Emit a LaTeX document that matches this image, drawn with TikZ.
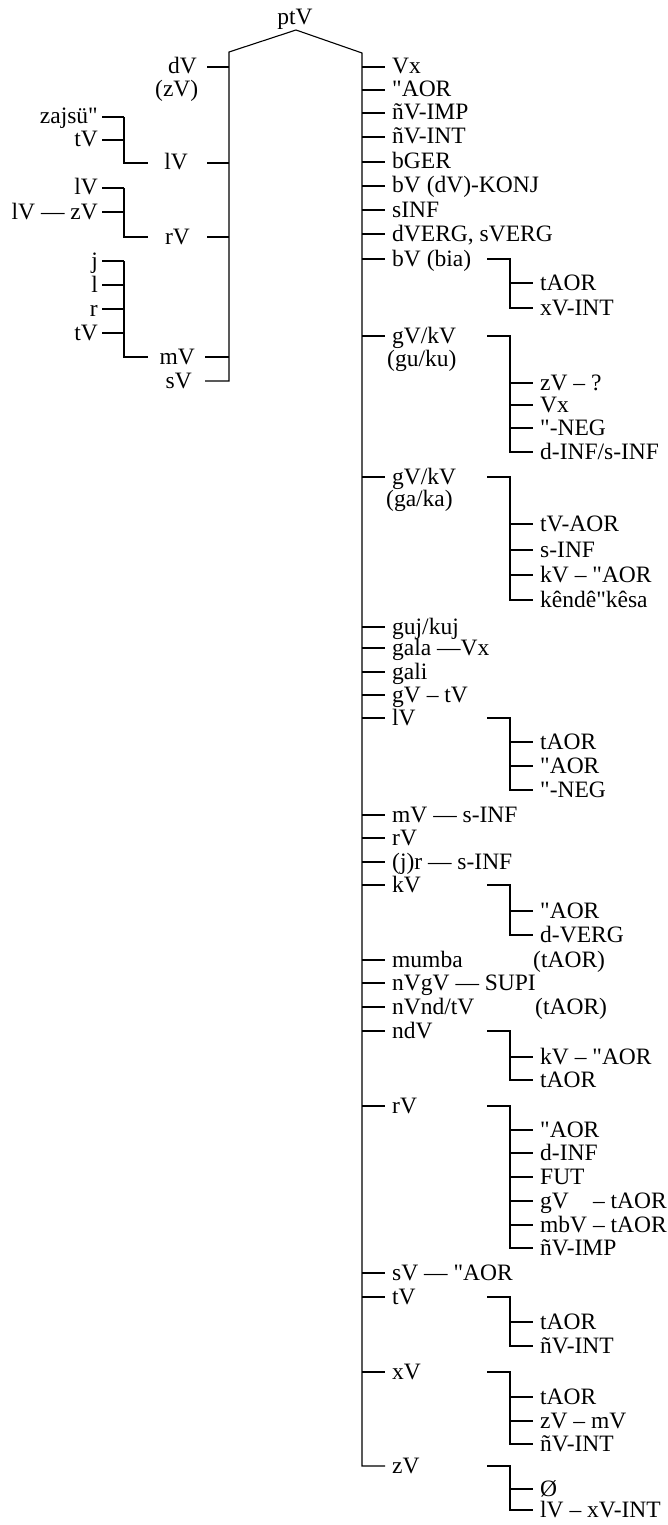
\documentclass[tikz,border=0pt]{standalone}
\usepackage{fontspec}
\setmainfont{Liberation Serif}[Ligatures=TeXOff]
\tikzset{
  lab/.style={inner sep=0pt, text height=14pt, text depth=0pt, font=\fontsize{23.5}{24}\selectfont},
  ln/.style={line width=1.1pt}
}
\newcommand\rItem[3]{\node[lab,anchor=west] (#1) at (392,#2) {#3};\draw[ln] (RT |- #1.west) -- ([xshift=-7pt]#1.west);}
\newcommand\cItem[3]{\node[lab,anchor=west] (#1) at (540,#2) {#3};\draw[ln] (BV |- #1.west) -- ([xshift=-7pt]#1.west);}
\newcommand\subBr[2]{\draw[ln] (BH |- #1.west) -- (BV |- #1.west) |- ([xshift=-7pt]#2.west);}
\newcommand\lItem[3]{\node[lab,anchor=east] (#1) at (98,#2) {#3};\draw[ln] ([xshift=4pt]#1.east) -- (LBR |- #1.east);}
\newcommand\lBr[2]{\draw[ln] (LBR |- #1.east) |- (#2);}
\begin{document}
\begin{tikzpicture}[x=1pt,y=-1pt]
\useasboundingbox (0,0) rectangle (668,1525);
% trunk coordinates
\coordinate (LT) at (229,52);
\coordinate (AP) at (296,30);
\coordinate (RT) at (362,53);
\coordinate (BH) at (487,0);
\coordinate (BV) at (510,0);
\coordinate (LBR) at (124,0);
\node[lab,anchor=base] (root) at (295,25) {ptV};

% ---------- left side ----------
\node[lab,anchor=east] (LdV) at (197,67) {dV};
\draw[ln] ([xshift=10pt]LdV.east) -- (LT |- LdV.east);
\node[lab,anchor=west] (LzV) at (155,90) {(zV)};

\lItem{la1}{117}{zajsü"}
\lItem{la2}{140}{tV}
\coordinate (lb1) at (148,163);
\lBr{la1}{lb1}
\node[lab,anchor=east] (LlV) at (188,163) {lV};
\draw[ln] ([xshift=19pt]LlV.east) -- (LT |- LlV.east);

\lItem{lb1a}{188}{lV}
\lItem{lb1b}{212}{lV — zV}
\coordinate (lb2) at (148,237);
\lBr{lb1a}{lb2}
\node[lab,anchor=east] (LrV) at (190,237) {rV};
\draw[ln] ([xshift=17pt]LrV.east) -- (LT |- LrV.east);

\lItem{lc1}{261}{j}
\lItem{lc2}{285}{l}
\lItem{lc3}{309}{r}
\lItem{lc4}{333}{tV}
\coordinate (lb3) at (148,357);
\lBr{lc1}{lb3}
\node[lab,anchor=east] (LmV) at (195,357) {mV};
\draw[ln] ([xshift=10pt]LmV.east) -- (LT |- LmV.east);
\node[lab,anchor=east] (LsV) at (192,381) {sV};

% ---------- trunk ----------
\node[lab,anchor=west] (r29) at (392,1466) {zV};
\draw[ln] ([xshift=13pt]LsV.east) -- (LT |- LsV.east) -- (LT) -- (AP) -- (RT) |- ([xshift=-7pt]r29.west);

% ---------- right side ----------
\rItem{r1}{67}{Vx}
\rItem{r2}{90}{"AOR}
\rItem{r3}{113}{ñV-IMP}
\rItem{r4}{137}{ñV-INT}
\rItem{r5}{162}{bGER}
\rItem{r6}{186}{bV (dV)-KONJ}
\rItem{r7}{210}{sINF}
\rItem{r8}{234}{dVERG, sVERG}

\rItem{r9}{259}{bV (bia)}
\cItem{c9a}{283}{tAOR}
\cItem{c9b}{308}{xV-INT}
\subBr{r9}{c9b}

\rItem{r10}{336}{gV/kV}
\node[lab,anchor=west] (r10b) at (387,359) {(gu/ku)};
\cItem{c10a}{383}{zV – ?}
\cItem{c10b}{405}{Vx}
\cItem{c10c}{428}{"-NEG}
\cItem{c10d}{452}{d-INF/s-INF}
\subBr{r10}{c10d}

\rItem{r11}{477}{gV/kV}
\node[lab,anchor=west] (r11b) at (386,499) {(ga/ka)};
\cItem{c11a}{524}{tV-AOR}
\cItem{c11b}{550}{s-INF}
\cItem{c11c}{575}{kV – "AOR}
\cItem{c11d}{600}{kêndê"kêsa}
\subBr{r11}{c11d}

\rItem{r12}{627}{guj/kuj}
\rItem{r13}{648}{gala —Vx}
\rItem{r14}{672}{gali}
\rItem{r15}{695}{gV – tV}

\rItem{r16}{718}{lV}
\cItem{c16a}{742}{tAOR}
\cItem{c16b}{766}{"AOR}
\cItem{c16c}{790}{"-NEG}
\subBr{r16}{c16c}

\rItem{r17}{815}{mV — s-INF}
\rItem{r18}{838}{rV}
\rItem{r19}{862}{(j)r — s-INF}

\rItem{r20}{885}{kV}
\cItem{c20a}{911}{"AOR}
\cItem{c20b}{935}{d-VERG}
\subBr{r20}{c20b}

\rItem{r21}{960}{mumba}
\node[lab,anchor=west] (r21b) at (533,960) {(tAOR)};
\rItem{r22}{983}{nVgV — SUPI}
\rItem{r23}{1007}{nVnd/tV}
\node[lab,anchor=west] (r23b) at (535,1007) {(tAOR)};

\rItem{r24}{1031}{ndV}
\cItem{c24a}{1057}{kV – "AOR}
\cItem{c24b}{1080}{tAOR}
\subBr{r24}{c24b}

\rItem{r25}{1106}{rV}
\cItem{c25a}{1130}{"AOR}
\cItem{c25b}{1153}{d-INF}
\cItem{c25c}{1177}{FUT}
\cItem{c25d}{1201}{gV\phantom{m} – tAOR}
\cItem{c25e}{1225}{mbV – tAOR}
\cItem{c25f}{1248}{ñV-IMP}
\subBr{r25}{c25f}

\rItem{r26}{1273}{sV — "AOR}

\rItem{r27}{1297}{tV}
\cItem{c27a}{1322}{tAOR}
\cItem{c27b}{1346}{ñV-INT}
\subBr{r27}{c27b}

\rItem{r28}{1372}{xV}
\cItem{c28a}{1397}{tAOR}
\cItem{c28b}{1421}{zV – mV}
\cItem{c28c}{1444}{ñV-INT}
\subBr{r28}{c28c}

\cItem{c29a}{1489}{Ø}
\cItem{c29b}{1510}{lV – xV-INT}
\subBr{r29}{c29b}
\end{tikzpicture}
\end{document}
